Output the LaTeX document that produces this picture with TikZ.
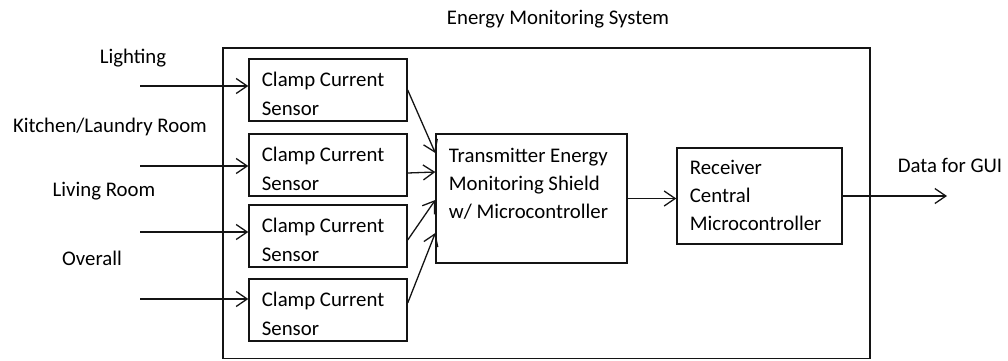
\documentclass[tikz,border=0pt]{standalone}
\usepackage{fontspec}
\setmainfont{Carlito}
\usetikzlibrary{arrows.meta,positioning,calc}
\definecolor{linecol}{RGB}{20,20,20}
\tikzset{
  block box/.style={draw=linecol,line width=0.7pt,inner sep=0pt},
  sensor box/.style={block box,minimum width=79pt,minimum height=31pt},
  block text/.style={inner sep=0pt,align=left,font=\fontsize{10.4}{14.2}\selectfont},
  plain label/.style={anchor=base,inner sep=0pt,font=\fontsize{10.4}{12}\selectfont},
  sigedge/.style={-{Straight Barb[length=5.5pt,width=7.5pt]},draw=linecol,line width=0.65pt}
}
\begin{document}
\begin{tikzpicture}[x=0.5pt,y=-0.5pt]
\useasboundingbox (0,0) rectangle (1008,360);
% ---- system frame ----
\node[block box,minimum width=323.5pt,minimum height=155.25pt] (sys) at (546.5,203.25) {};
\node[plain label] (title) at (558,24) {Energy Monitoring System};
% ---- inputs and sensors ----
\node[plain label] (lighting) at (133,63) {Lighting};
\node[plain label] (kitchen) at (110,132) {Kitchen/Laundry Room};
\node[plain label] (living) at (104,196) {Living Room};
\node[plain label] (overall) at (92,265) {Overall};
\foreach \n/\y/\ya in {1/90/86,2/165/166,3/236/232,4/310/299}{
  \node[sensor box] (s\n) at (328,\y) {};
  \node[block text,below right=6.8pt and 6.6pt of s\n.north west] (s\n txt) {Clamp Current\\Sensor};
  \coordinate (in\n) at (140,\ya);
  \draw[sigedge] (in\n) -- (s\n.west |- in\n);
}
% ---- transmitter and receiver ----
\node[block box,minimum width=95.5pt,minimum height=64.5pt] (tx) at (531.5,198.5) {};
\node[block text,below right=7pt and 6.6pt of tx.north west] (tx txt)
  {Transmitter Energy\\Monitoring Shield\\w/ Microcontroller};
\node[block box,minimum width=82.5pt,minimum height=48pt] (rx) at (759.5,196) {};
\node[block text,below right=6pt and 6.6pt of rx.north west] (rx txt)
  {Receiver\\Central\\Microcontroller};
\foreach \n/\dy/\ty in {1/0/153,2/8/172,3/4/200,4/-7/233}{
  \draw[sigedge] ($(s\n.east)+(0,\dy)$) -- (tx.west |- 0,\ty);
}
\draw[sigedge] (tx.east) -- (rx.west |- tx.east);
% ---- output ----
\coordinate (gui) at (947,196);
\draw[sigedge] (rx.east) -- (gui);
\node[plain label] (guitxt) at (950,172) {Data for GUI};
\end{tikzpicture}
\end{document}
